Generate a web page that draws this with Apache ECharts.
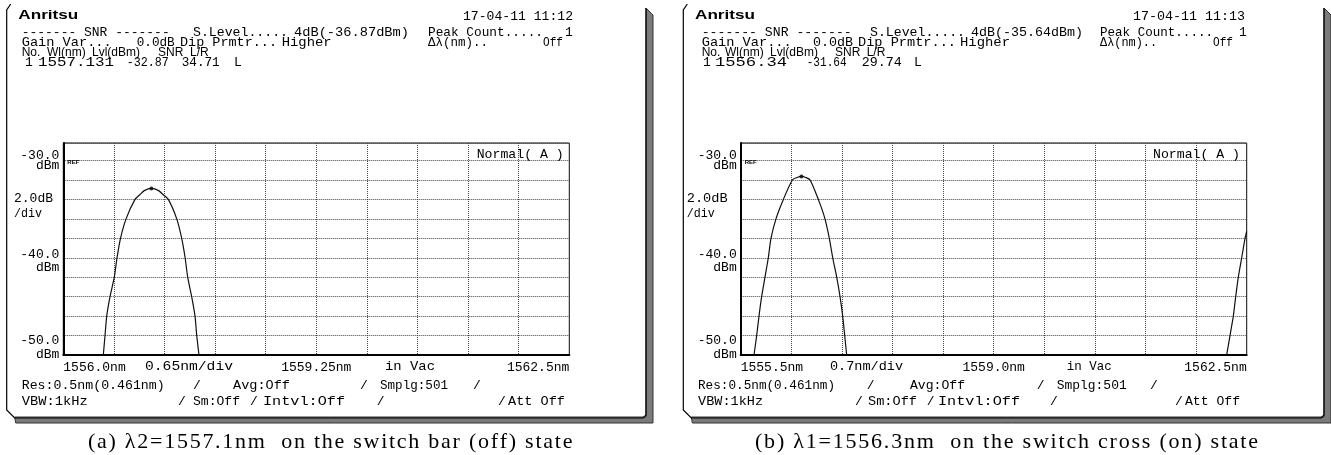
<!DOCTYPE html>
<html><head><meta charset="utf-8">
<script src="https://cdn.jsdelivr.net/npm/echarts@6/dist/echarts.min.js"></script>
<style>html,body{margin:0;padding:0;background:#fff}#c{width:1331px;height:455px}</style>
</head><body><div id="c"></div>
<script>
// ---------- DATA ----------
// Panel (a): lambda2 on switch bar (off) state
const wlA  = [1556.514,1556.536,1556.558,1556.600,1556.655,1556.690,1556.735,1556.806,1556.921,1556.985,1557.040,1557.131,1557.225,1557.281,1557.349,1557.457,1557.521,1557.565,1557.598,1557.649,1557.692,1557.714,1557.743];
const lvlA = [-50,-48,-46,-44,-42,-40,-38,-36,-34,-33.5,-33.1,-32.87,-33.1,-33.5,-34,-36,-38,-40,-42,-44,-46,-48,-50];
const peakA = [1557.131, -32.87];
// Panel (b): lambda1 on switch cross (on) state
const wlB  = [1555.684,1555.721,1555.753,1555.790,1555.836,1555.882,1555.919,1555.988,1556.090,1556.215,1556.280,1556.340,1556.400,1556.460,1556.574,1556.666,1556.726,1556.773,1556.828,1556.874,1556.911,1556.939,1556.966];
const lvlB = [-50,-48,-46,-44,-42,-40,-38,-36,-34,-32,-31.75,-31.64,-31.75,-32,-34,-36,-38,-40,-42,-44,-46,-48,-50];
// neighbouring channel entering at the right edge of (b)
const wlB2  = [1562.223,1562.269,1562.315,1562.348,1562.384,1562.431,1562.477,1562.500];
const lvlB2 = [-50,-48,-46,-44,-42,-40,-38,-37.3];
const peakB = [1556.34, -31.64];

const xAxisA = {min:1556.0, max:1562.5, step:0.65, labels:{'1556':'1556.0nm','1559.25':'1559.25nm','1562.5':'1562.5nm'}};
const xAxisB = {min:1555.5, max:1562.5, step:0.7,  labels:{'1555.5':'1555.5nm','1559':'1559.0nm','1562.5':'1562.5nm'}};
const yAxisCfg = {min:-50, max:-28.2, step:2};
const yTickLabels = {'-30':'-30.0','-40':'-40.0','-50':'-50.0'};

// screen texts: [x, y(centre), text, width(optional), proportional?]
const headA = [
  [463,17,'17-04-11 11:12',110],
  [21.7,33,'------- SNR -------',148],[193,33,'S.Level.....',95],[294,33,'4dB(-36.87dBm)',115],[428,33,'Peak Count.....',115],[565,33,'1'],
  [21.7,43,'Gain Var...',90],[136.7,43,'0.0dB',38],[180,43,'Dip Prmtr...',97],[281.7,43,'Higher',50],[428,43,'Δλ(nm)..',60],[543,43,'Off',20],
  [21.7,53,'No.',0,1],[47,53,'Wl(nm)',0,1],[92,53,'Lvl(dBm)',0,1],[158,53,'SNR',0,1],[190,53,'L/R',0,1],
  [25,63,'1'],[38,63,'1557.131',76],[126.7,63,'-32.87',42],[181.7,63,'34.71',38],[234,63,'L'],
  [145,367,'0.65nm/div',88],[385,367,'in Vac',50],
  [14,199,'2.0dB',39],[14,214,'/div',28],
  [476.7,155,'Normal( A )',87],
  [21.7,386,'Res:0.5nm(0.461nm)',143],[193,386,'/'],[233,386,'Avg:Off',57],[360,386,'/'],[380,386,'Smplg:501',68],[473,386,'/'],
  [21.7,402,'VBW:1kHz',66],[178,402,'/'],[193,402,'Sm:Off',47],[250,402,'/'],[263,402,'Intvl:Off',82],[376.7,402,'/'],[498,402,'/'],[508,402,'Att Off',57]
];
const headB = [
  [1133,17,'17-04-11 11:13',112],
  [701.7,33,'------- SNR -------',150],[870,33,'S.Level.....',95],[971,33,'4dB(-35.64dBm)',112],[1100,33,'Peak Count.....',113],[1239,33,'1'],
  [701.7,43,'Gain Var...',90],[813,43,'0.0dB',40],[858,43,'Dip Prmtr...',98],[960,43,'Higher',50],[1100,43,'Δλ(nm)..',57],[1213,43,'Off',20],
  [701.7,53,'No.',0,1],[725,53,'Wl(nm)',0,1],[770,53,'Lvl(dBm)',0,1],[835,53,'SNR',0,1],[866.7,53,'L/R',0,1],
  [703,63,'1'],[715,63,'1556.34',72],[806.7,63,'-31.64',40],[861.7,63,'29.74',40],[914,63,'L'],
  [830,367,'0.7nm/div',73],[1066.7,367,'in Vac',45],
  [686.7,199,'2.0dB',41],[686.7,214,'/div',28],
  [1153,155,'Normal( A )',87],
  [698,386,'Res:0.5nm(0.461nm)',137],[866.7,386,'/'],[910,386,'Avg:Off',55],[1036.7,386,'/'],[1056.7,386,'Smplg:501',70],[1150,386,'/'],
  [698,402,'VBW:1kHz',65],[855,402,'/'],[868,402,'Sm:Off',49],[926.7,402,'/'],[938,402,'Intvl:Off',82],[1050,402,'/'],[1175,402,'/'],[1185,402,'Att Off',55]
];
const captionA = '(a) λ2=1557.1nm  on the switch bar (off) state';
const captionB = '(b) λ1=1556.3nm  on the switch cross (on) state';

// ---------- CHART ----------
const MONO = '"Liberation Mono","DejaVu Sans Mono",monospace';
const FONT = '13px ' + MONO;
const PFONT = '12px "Liberation Sans",Arial,sans-serif';
const zip = (a,b) => a.map((v,i)=>[v,b[i]]);
const chart = echarts.init(document.getElementById('c'), null, {renderer:'canvas'});
const mctx = document.createElement('canvas').getContext('2d');
function measure(t, font){ mctx.font = font; return mctx.measureText(t).width; }

function xAx(cfg, gi){
  return {
    type:'value', gridIndex:gi, min:cfg.min, max:cfg.max, interval:cfg.step,
    axisLine:{show:true, onZero:false, lineStyle:{color:'#000', width:2}},
    axisTick:{show:false},
    splitLine:{show:true, lineStyle:{color:'#444', width:1, type:[1,1]}},
    axisLabel:{
      show:true, interval:0, margin:6, color:'#000', fontFamily:MONO, fontSize:13,
      alignMinLabel:'left', alignMaxLabel:'right', hideOverlap:false, showMinLabel:true, showMaxLabel:true,
      formatter:(v)=>{ for (const k in cfg.labels){ if (Math.abs(v-parseFloat(k))<1e-6) return cfg.labels[k]; } return ''; }
    }
  };
}
function yAx(gi){
  return {
    type:'value', gridIndex:gi, min:yAxisCfg.min, max:yAxisCfg.max, interval:yAxisCfg.step,
    axisLine:{show:true, onZero:false, lineStyle:{color:'#000', width:2}},
    axisTick:{show:false},
    splitLine:{show:true, lineStyle:{color:'#444', width:1, type:[1,1]}},
    axisLabel:{
      show:true, margin:4, color:'#000', fontFamily:MONO, fontSize:13, align:'right',
      showMinLabel:true, showMaxLabel:false,
      formatter:(v)=>{
        const k = String(Math.round(v));
        if (Math.abs(v-Math.round(v))>1e-6 || !yTickLabels[k]) return '';
        if (k==='-30') return '{t|'+yTickLabels[k]+'}\n{t|dBm}';
        if (k==='-40') return '{s| }\n{m|'+yTickLabels[k]+'}\n{m|dBm}';
        return '{m|'+yTickLabels[k]+'}\n{b|dBm}\n{s2| }';
      },
      rich:{
        t:{lineHeight:10, fontFamily:MONO, fontSize:13, color:'#000', align:'right'},
        m:{lineHeight:13, fontFamily:MONO, fontSize:13, color:'#000', align:'right'},
        b:{lineHeight:16, fontFamily:MONO, fontSize:13, color:'#000', align:'right'},
        s:{lineHeight:6, fontSize:6},
        s2:{lineHeight:13, fontSize:6}
      }
    }
  };
}

function textEls(list){
  return list.map(([x,y,t,w,prop])=>{
    const f = prop ? PFONT : FONT;
    let sx = 1;
    if (w) { const mw = measure(t, f); if (mw>0) sx = w/mw; }
    return {type:'text', x:x, y:y, scaleX:sx, originX:0, originY:0, z:50,
            style:{text:t, fill:'#000', font:f, verticalAlign:'middle', align:'left'}};
  });
}
function frame(x0, x1, x2){
  return [
    {type:'polygon', z:1, shape:{points:[[x1,8],[x2,15],[x2,423],[x0+9,423],[x0+8,417],[x1,417]]}, style:{fill:'#7b7b7b', stroke:'#333', lineWidth:1}},
    {type:'polyline', z:2, shape:{points:[[x0+4,4],[x0,10],[x0,410],[x0+8,418],[x1-3,418],[x1,415],[x1,8]]}, style:{stroke:'#000', lineWidth:1.2, fill:null}}
  ];
}
// caption with even character spacing (as in the printed figure)
function caption(t, x0, w){
  const f = '22px "Liberation Serif",serif';
  const chars = Array.from(t);
  const nat = measure(t, f);
  const ls = Math.max(0, (w - nat) / (chars.length - 1));
  const els = [];
  let x = x0;
  chars.forEach((c)=>{
    if (c !== ' ') els.push({type:'text', x:x, y:442, z:50, style:{text:c, fill:'#000', font:f, align:'left', verticalAlign:'middle'}});
    x += measure(c, f) + ls;
  });
  return els;
}

const option = {
  animation:false,
  backgroundColor:'#fff',
  grid:[
    {left:63.3, top:143, width:506, height:212, show:true, borderColor:'#000', borderWidth:1, backgroundColor:'transparent'},
    {left:740.7, top:143, width:506, height:212, show:true, borderColor:'#000', borderWidth:1, backgroundColor:'transparent'}
  ],
  xAxis:[xAx(xAxisA,0), xAx(xAxisB,1)],
  yAxis:[yAx(0), yAx(1)],
  series:[
    {type:'line', xAxisIndex:0, yAxisIndex:0, data:zip(wlA,lvlA), symbol:'none', smooth:0.25, clip:true, lineStyle:{color:'#111', width:1.2}},
    {type:'scatter', xAxisIndex:0, yAxisIndex:0, data:[peakA], symbolSize:4, itemStyle:{color:'#000'}},
    {type:'line', xAxisIndex:1, yAxisIndex:1, data:zip(wlB,lvlB), symbol:'none', smooth:0.25, clip:true, lineStyle:{color:'#111', width:1.2}},
    {type:'line', xAxisIndex:1, yAxisIndex:1, data:zip(wlB2,lvlB2), symbol:'none', smooth:0.2, clip:true, lineStyle:{color:'#111', width:1.2}},
    {type:'scatter', xAxisIndex:1, yAxisIndex:1, data:[peakB], symbolSize:4, itemStyle:{color:'#000'}}
  ],
  graphic:[]
};
chart.setOption(option);

const refA = chart.convertToPixel({gridIndex:0}, [xAxisA.min, -30]);
const refB = chart.convertToPixel({gridIndex:1}, [xAxisB.min, -30]);
const LOGO = 'bold 13px "Liberation Sans",sans-serif';
const g = [].concat(
  frame(6.7, 646, 653),
  frame(683.3, 1324, 1331),
  [
    {type:'text', x:18.3, y:15, z:50, scaleX:60/measure('Anritsu',LOGO), originX:0, style:{text:'Anritsu', fill:'#000', font:LOGO, verticalAlign:'middle'}},
    {type:'text', x:695, y:15, z:50, scaleX:60/measure('Anritsu',LOGO), originX:0, style:{text:'Anritsu', fill:'#000', font:LOGO, verticalAlign:'middle'}},
    {type:'text', x:refA[0]+4, y:refA[1]+2, z:50, style:{text:'REF', fill:'#000', font:'bold 6px "Liberation Sans",sans-serif', verticalAlign:'middle'}},
    {type:'text', x:refB[0]+4, y:refB[1]+2, z:50, style:{text:'REF', fill:'#000', font:'bold 6px "Liberation Sans",sans-serif', verticalAlign:'middle'}}
  ],
  caption(captionA, 88, 484),
  caption(captionB, 755, 503),
  textEls(headA), textEls(headB)
);
chart.setOption({graphic:g});
</script></body></html>
